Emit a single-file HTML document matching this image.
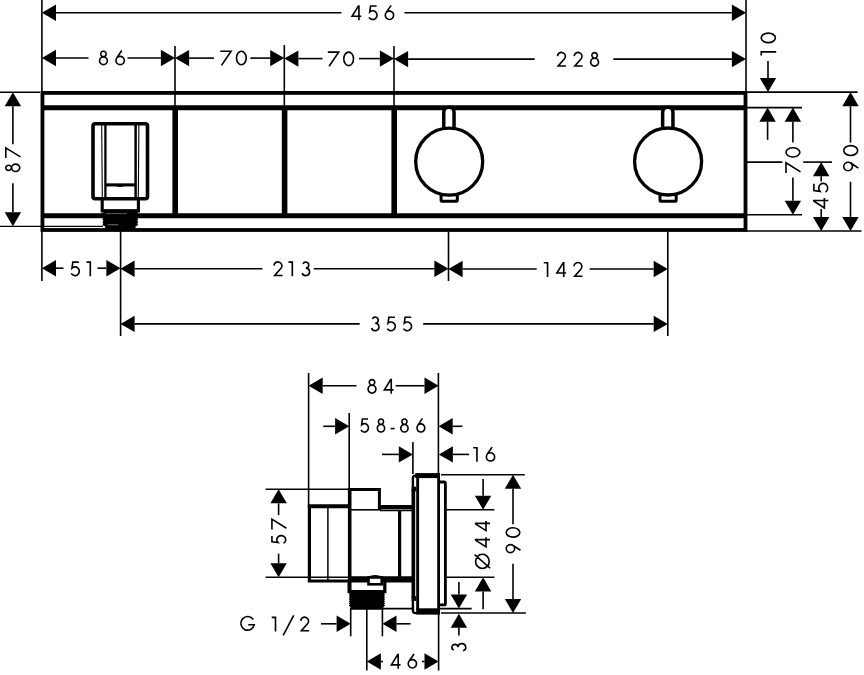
<!DOCTYPE html>
<html><head><meta charset="utf-8"><title>Dimension drawing</title>
<style>html,body{margin:0;padding:0;background:#fff;font-family:"Liberation Sans",sans-serif;}svg{display:block}</style>
</head><body>
<svg width="864" height="675" viewBox="0 0 864 675">
<rect width="864" height="675" fill="#fff"/>
<path d="M41.9,0L41.9,93" stroke="#000" stroke-width="1.6" fill="none"/>
<path d="M746,0L746,93" stroke="#000" stroke-width="1.6" fill="none"/>
<path d="M175,46L175,108" stroke="#000" stroke-width="1.6" fill="none"/>
<path d="M284.3,45L284.3,108" stroke="#000" stroke-width="1.6" fill="none"/>
<path d="M394,46L394,108" stroke="#000" stroke-width="1.6" fill="none"/>
<path d="M41.9,230L41.9,281" stroke="#000" stroke-width="1.6" fill="none"/>
<path d="M120.6,230L120.6,336" stroke="#000" stroke-width="1.6" fill="none"/>
<path d="M448.5,232L448.5,281" stroke="#000" stroke-width="1.6" fill="none"/>
<path d="M667.8,232L667.8,336" stroke="#000" stroke-width="1.6" fill="none"/>
<path d="M0,92.2L40,92.2" stroke="#000" stroke-width="1.6" fill="none"/>
<path d="M0,226.3L103,226.3" stroke="#000" stroke-width="1.3" fill="none"/>
<path d="M746,92.1L857.6,92.1" stroke="#000" stroke-width="1.6" fill="none"/>
<path d="M746,107.6L802,107.6" stroke="#000" stroke-width="1.6" fill="none"/>
<path d="M746,162.1L782.3,162.1" stroke="#000" stroke-width="1.6" fill="none"/>
<path d="M803.2,162.1L832,162.1" stroke="#000" stroke-width="1.6" fill="none"/>
<path d="M746,214.8L802,214.8" stroke="#000" stroke-width="1.6" fill="none"/>
<path d="M746,231L861.5,231" stroke="#000" stroke-width="1.6" fill="none"/>
<rect x="42.45" y="92.9" width="703.05" height="137.1" fill="none" stroke="#000" stroke-width="3.8"/>
<path d="M42.45,107.8L745.5,107.8" stroke="#000" stroke-width="5.0" fill="none"/>
<path d="M42.45,215.7L745.5,215.7" stroke="#000" stroke-width="5.0" fill="none"/>
<path d="M175.2,107.8L175.2,215.7" stroke="#000" stroke-width="5.6" fill="none"/>
<path d="M284.6,107.8L284.6,215.7" stroke="#000" stroke-width="5.6" fill="none"/>
<path d="M394.2,107.8L394.2,215.7" stroke="#000" stroke-width="5.6" fill="none"/>
<rect x="93" y="123.7" width="54.5" height="75" rx="2.2" fill="none" stroke="#000" stroke-width="3.6"/>
<path d="M101.7,125L102.3,198" stroke="#000" stroke-width="1.1" fill="none"/>
<path d="M138.9,125L138.3,198" stroke="#000" stroke-width="1.1" fill="none"/>
<path d="M105.4,125L105.4,200" stroke="#000" stroke-width="2.3" fill="none"/>
<path d="M135.6,125L135.6,200" stroke="#000" stroke-width="2.5" fill="none"/>
<path d="M105.4,184.9L135.6,184.9" stroke="#000" stroke-width="3.1" fill="none"/>
<path d="M115.5,186A6,2.2 0 0 0 124.5,186z" fill="#000"/>
<path d="M102.2,199V211H138.4V199" fill="none" stroke="#000" stroke-width="3.1"/>
<polygon points="102.40,209.30 138.20,209.30 138.20,210.80 137.30,212.22 138.20,213.64 137.30,215.06 138.20,216.48 137.30,217.90 138.20,219.32 137.30,220.74 138.20,222.16 137.30,223.58 138.20,225.00 135.50,226.60 135.50,229.20 105.10,229.20 105.10,226.60 102.40,225.00 103.30,223.58 102.40,222.16 103.30,220.74 102.40,219.32 103.30,217.90 102.40,216.48 103.30,215.06 102.40,213.64 103.30,212.22 102.40,210.80" fill="#000"/>
<path d="M106,213.6H127" stroke="#999" stroke-width="0.6"/>
<path d="M107.5,224.8H118.5" stroke="#aaa" stroke-width="0.7"/>
<path d="M443.75,129.7V112.4A5.15,5.15 0 0 1 454.05,112.4V129.7" fill="#fff" stroke="#000" stroke-width="3.5"/>
<path d="M441.09999999999997,193.7V200.3A1,1 0 0 0 442.09999999999997,201.3H456.3A1,1 0 0 0 457.3,200.3V193.7" fill="#fff" stroke="#000" stroke-width="3.0"/>
<circle cx="449.2" cy="161.7" r="33.5" fill="#fff" stroke="#000" stroke-width="3.3"/>
<path d="M662.65,129.5V112.4A5.15,5.15 0 0 1 672.95,112.4V129.5" fill="#fff" stroke="#000" stroke-width="3.5"/>
<path d="M660.0,193.5V200.3A1,1 0 0 0 661.0,201.3H675.2A1,1 0 0 0 676.2,200.3V193.5" fill="#fff" stroke="#000" stroke-width="3.0"/>
<circle cx="668.1" cy="161.5" r="33.5" fill="#fff" stroke="#000" stroke-width="3.3"/>
<polygon points="41.90,12.70 56.00,4.50 56.00,20.90" fill="#000"/>
<polygon points="746.00,12.70 731.90,4.50 731.90,20.90" fill="#000"/>
<path d="M56.0,12.7L341.5,12.7" stroke="#000" stroke-width="1.6" fill="none"/>
<path d="M404.5,12.7L731.9,12.7" stroke="#000" stroke-width="1.6" fill="none"/>
<g transform="translate(351.40,20.25)" fill="none" stroke="#000" stroke-width="1.62" stroke-linejoin="miter" stroke-linecap="butt"><path transform="translate(0.00,0) scale(1.000,1.000)" d="M7.55,0V-15M7.1,-14.35L0.7,-3.95H9.9" vector-effect="non-scaling-stroke"/><path transform="translate(16.65,0) scale(1.000,1.000)" d="M8.6,-14.19H2.5L1.7,-8.3A4.35,4.35 0 1 1 0.9,-2.9" vector-effect="non-scaling-stroke"/><path transform="translate(33.10,0) scale(1.000,1.000)" d="M6.6,-14.9L1.55,-7.6 M0.77,-4.95a4.18,4.18 0 1 0 8.36,0a4.18,4.18 0 1 0 -8.36,0z" vector-effect="non-scaling-stroke"/></g>
<polygon points="41.90,58.00 56.00,49.80 56.00,66.20" fill="#000"/>
<path d="M56.0,58.0L88.5,58.0" stroke="#000" stroke-width="1.6" fill="none"/>
<g transform="translate(98.75,65.45)" fill="none" stroke="#000" stroke-width="1.62" stroke-linejoin="miter" stroke-linecap="butt"><path transform="translate(0.00,0) scale(1.000,1.000)" d="M1.98,-11.50a2.72,2.72 0 1 0 5.44,0a2.72,2.72 0 1 0 -5.44,0z M0.78,-4.70a3.92,3.92 0 1 0 7.84,0a3.92,3.92 0 1 0 -7.84,0z" vector-effect="non-scaling-stroke"/><path transform="translate(16.45,0) scale(1.000,1.000)" d="M6.6,-14.9L1.55,-7.6 M0.77,-4.95a4.18,4.18 0 1 0 8.36,0a4.18,4.18 0 1 0 -8.36,0z" vector-effect="non-scaling-stroke"/></g>
<path d="M127.5,58.0L160.9,58.0" stroke="#000" stroke-width="1.6" fill="none"/>
<polygon points="175.00,58.00 160.90,49.80 160.90,66.20" fill="#000"/>
<polygon points="175.00,58.10 189.10,49.90 189.10,66.30" fill="#000"/>
<path d="M189.1,58.1L214,58.1" stroke="#000" stroke-width="1.6" fill="none"/>
<g transform="translate(220.10,65.50)" fill="none" stroke="#000" stroke-width="1.62" stroke-linejoin="miter" stroke-linecap="butt"><path transform="translate(0.00,0) scale(1.000,1.000)" d="M0.1,-14.19H11.0L1.4,-0.1" vector-effect="non-scaling-stroke"/><path transform="translate(15.60,0) scale(1.000,1.000)" d="M0.78,-7.50a4.87,6.72 0 1 0 9.74,0a4.87,6.72 0 1 0 -9.74,0z" vector-effect="non-scaling-stroke"/></g>
<path d="M250.3,58.1L270.2,58.1" stroke="#000" stroke-width="1.6" fill="none"/>
<polygon points="284.30,58.10 270.20,49.90 270.20,66.30" fill="#000"/>
<polygon points="284.30,58.60 298.40,50.40 298.40,66.80" fill="#000"/>
<path d="M298.40000000000003,58.6L322.5,58.6" stroke="#000" stroke-width="1.6" fill="none"/>
<g transform="translate(327.70,66.35)" fill="none" stroke="#000" stroke-width="1.62" stroke-linejoin="miter" stroke-linecap="butt"><path transform="translate(0.00,0) scale(1.000,1.000)" d="M0.1,-14.19H11.0L1.4,-0.1" vector-effect="non-scaling-stroke"/><path transform="translate(15.30,0) scale(1.000,1.000)" d="M0.78,-7.50a4.87,6.72 0 1 0 9.74,0a4.87,6.72 0 1 0 -9.74,0z" vector-effect="non-scaling-stroke"/></g>
<path d="M359,58.6L379.9,58.6" stroke="#000" stroke-width="1.6" fill="none"/>
<polygon points="394.00,58.60 379.90,50.40 379.90,66.80" fill="#000"/>
<polygon points="394.00,59.10 408.10,50.90 408.10,67.30" fill="#000"/>
<path d="M408.1,59.1L534.7,59.1" stroke="#000" stroke-width="1.6" fill="none"/>
<g transform="translate(556.60,66.85)" fill="none" stroke="#000" stroke-width="1.62" stroke-linejoin="miter" stroke-linecap="butt"><path transform="translate(0.00,0) scale(1.000,1.000)" d="M0.9,-10.7A3.95,3.95 0 1 1 7.9,-8.0L1.6,-0.81H9.4" vector-effect="non-scaling-stroke"/><path transform="translate(16.65,0) scale(1.000,1.000)" d="M0.9,-10.7A3.95,3.95 0 1 1 7.9,-8.0L1.6,-0.81H9.4" vector-effect="non-scaling-stroke"/><path transform="translate(33.30,0) scale(1.000,1.000)" d="M1.98,-11.50a2.72,2.72 0 1 0 5.44,0a2.72,2.72 0 1 0 -5.44,0z M0.78,-4.70a3.92,3.92 0 1 0 7.84,0a3.92,3.92 0 1 0 -7.84,0z" vector-effect="non-scaling-stroke"/></g>
<path d="M613.3,59.1L731.9,59.1" stroke="#000" stroke-width="1.6" fill="none"/>
<polygon points="746.00,59.10 731.90,50.90 731.90,67.30" fill="#000"/>
<polygon points="41.90,268.20 56.00,260.00 56.00,276.40" fill="#000"/>
<path d="M56.0,268.2L63.5,268.2" stroke="#000" stroke-width="1.6" fill="none"/>
<g transform="translate(70.30,276.35)" fill="none" stroke="#000" stroke-width="1.62" stroke-linejoin="miter" stroke-linecap="butt"><path transform="translate(0.00,0) scale(1.000,1.000)" d="M8.6,-14.19H2.5L1.7,-8.3A4.35,4.35 0 1 1 0.9,-2.9" vector-effect="non-scaling-stroke"/><path transform="translate(16.20,0) scale(1.000,1.000)" d="M0.0,-14.19H3.8V0" vector-effect="non-scaling-stroke"/></g>
<path d="M97.4,268.2L106.4,268.2" stroke="#000" stroke-width="1.6" fill="none"/>
<polygon points="120.50,268.20 106.40,260.00 106.40,276.40" fill="#000"/>
<polygon points="120.50,268.70 134.60,260.50 134.60,276.90" fill="#000"/>
<path d="M134.6,268.7L262.5,268.7" stroke="#000" stroke-width="1.6" fill="none"/>
<g transform="translate(273.10,276.35)" fill="none" stroke="#000" stroke-width="1.62" stroke-linejoin="miter" stroke-linecap="butt"><path transform="translate(0.00,0) scale(1.000,1.000)" d="M0.9,-10.7A3.95,3.95 0 1 1 7.9,-8.0L1.6,-0.81H9.4" vector-effect="non-scaling-stroke"/><path transform="translate(15.40,0) scale(1.000,1.000)" d="M0.0,-14.19H3.8V0" vector-effect="non-scaling-stroke"/><path transform="translate(28.10,0) scale(1.000,1.000)" d="M1.8,-12.4A3,3 0 1 1 4.6,-8.25A3.75,3.75 0 1 1 1.0,-3.4" vector-effect="non-scaling-stroke"/></g>
<path d="M313.8,268.7L434.4,268.7" stroke="#000" stroke-width="1.6" fill="none"/>
<polygon points="448.50,268.70 434.40,260.50 434.40,276.90" fill="#000"/>
<polygon points="448.50,269.00 462.60,260.80 462.60,277.20" fill="#000"/>
<path d="M462.6,269.0L536.7,269.0" stroke="#000" stroke-width="1.6" fill="none"/>
<g transform="translate(543.75,277.00)" fill="none" stroke="#000" stroke-width="1.62" stroke-linejoin="miter" stroke-linecap="butt"><path transform="translate(0.00,0) scale(1.000,1.000)" d="M0.0,-14.19H3.8V0" vector-effect="non-scaling-stroke"/><path transform="translate(12.43,0) scale(1.000,1.000)" d="M7.55,0V-15M7.1,-14.35L0.7,-3.95H9.9" vector-effect="non-scaling-stroke"/><path transform="translate(29.35,0) scale(1.000,1.000)" d="M0.9,-10.7A3.95,3.95 0 1 1 7.9,-8.0L1.6,-0.81H9.4" vector-effect="non-scaling-stroke"/></g>
<path d="M589.6,269.0L653.6999999999999,269.0" stroke="#000" stroke-width="1.6" fill="none"/>
<polygon points="667.80,269.00 653.70,260.80 653.70,277.20" fill="#000"/>
<polygon points="120.50,323.90 134.60,315.70 134.60,332.10" fill="#000"/>
<path d="M134.6,323.9L359.7,323.9" stroke="#000" stroke-width="1.6" fill="none"/>
<g transform="translate(370.60,331.45)" fill="none" stroke="#000" stroke-width="1.62" stroke-linejoin="miter" stroke-linecap="butt"><path transform="translate(0.00,0) scale(1.000,1.000)" d="M1.8,-12.4A3,3 0 1 1 4.6,-8.25A3.75,3.75 0 1 1 1.0,-3.4" vector-effect="non-scaling-stroke"/><path transform="translate(15.75,0) scale(1.000,1.000)" d="M8.6,-14.19H2.5L1.7,-8.3A4.35,4.35 0 1 1 0.9,-2.9" vector-effect="non-scaling-stroke"/><path transform="translate(32.00,0) scale(1.000,1.000)" d="M8.6,-14.19H2.5L1.7,-8.3A4.35,4.35 0 1 1 0.9,-2.9" vector-effect="non-scaling-stroke"/></g>
<path d="M423.2,323.9L653.6999999999999,323.9" stroke="#000" stroke-width="1.6" fill="none"/>
<polygon points="667.80,323.90 653.70,315.70 653.70,332.10" fill="#000"/>
<polygon points="12.90,92.20 4.70,106.30 21.10,106.30" fill="#000"/>
<path d="M12.9,106.3L12.9,144.2" stroke="#000" stroke-width="1.6" fill="none"/>
<g transform="translate(20.55,172.20) rotate(-90)" fill="none" stroke="#000" stroke-width="1.62" stroke-linejoin="miter" stroke-linecap="butt"><path transform="translate(0.00,0) scale(0.936,1.040)" d="M1.98,-11.50a2.72,2.72 0 1 0 5.44,0a2.72,2.72 0 1 0 -5.44,0z M0.78,-4.70a3.92,3.92 0 1 0 7.84,0a3.92,3.92 0 1 0 -7.84,0z" vector-effect="non-scaling-stroke"/><path transform="translate(14.07,0) scale(0.936,1.040)" d="M0.1,-14.19H11.0L1.4,-0.1" vector-effect="non-scaling-stroke"/></g>
<path d="M12.9,183.2L12.9,212.20000000000002" stroke="#000" stroke-width="1.6" fill="none"/>
<polygon points="12.90,226.30 4.70,212.20 21.10,212.20" fill="#000"/>
<path d="M768.0,60.9L768.0,78.0" stroke="#000" stroke-width="1.6" fill="none"/>
<polygon points="768.00,92.10 759.80,78.00 776.20,78.00" fill="#000"/>
<g transform="translate(776.20,55.60) rotate(-90)" fill="none" stroke="#000" stroke-width="1.62" stroke-linejoin="miter" stroke-linecap="butt"><path transform="translate(0.00,0) scale(0.969,1.053)" d="M0.0,-14.19H3.8V0" vector-effect="non-scaling-stroke"/><path transform="translate(12.25,0) scale(0.969,1.053)" d="M0.78,-7.50a4.87,6.72 0 1 0 9.74,0a4.87,6.72 0 1 0 -9.74,0z" vector-effect="non-scaling-stroke"/></g>
<polygon points="767.60,107.60 759.40,121.70 775.80,121.70" fill="#000"/>
<path d="M767.6,121.69999999999999L767.6,139.8" stroke="#000" stroke-width="1.6" fill="none"/>
<polygon points="792.90,107.60 784.70,121.70 801.10,121.70" fill="#000"/>
<path d="M792.9,121.69999999999999L792.9,142.6" stroke="#000" stroke-width="1.6" fill="none"/>
<g transform="translate(800.65,173.20) rotate(-90)" fill="none" stroke="#000" stroke-width="1.62" stroke-linejoin="miter" stroke-linecap="butt"><path transform="translate(0.00,0) scale(0.951,1.033)" d="M0.1,-14.19H11.0L1.4,-0.1" vector-effect="non-scaling-stroke"/><path transform="translate(15.46,0) scale(0.951,1.033)" d="M0.78,-7.50a4.87,6.72 0 1 0 9.74,0a4.87,6.72 0 1 0 -9.74,0z" vector-effect="non-scaling-stroke"/></g>
<path d="M792.9,177.5L792.9,200.70000000000002" stroke="#000" stroke-width="1.6" fill="none"/>
<polygon points="792.90,214.80 784.70,200.70 801.10,200.70" fill="#000"/>
<polygon points="821.20,162.10 813.00,176.20 829.40,176.20" fill="#000"/>
<path d="M821.2,176.2L821.2,181.4" stroke="#000" stroke-width="1.6" fill="none"/>
<g transform="translate(828.45,208.70) rotate(-90)" fill="none" stroke="#000" stroke-width="1.62" stroke-linejoin="miter" stroke-linecap="butt"><path transform="translate(0.00,0) scale(1.088,1.027)" d="M7.55,0V-15M7.1,-14.35L0.7,-3.95H9.9" vector-effect="non-scaling-stroke"/><path transform="translate(15.54,0) scale(1.088,1.027)" d="M8.6,-14.19H2.5L1.7,-8.3A4.35,4.35 0 1 1 0.9,-2.9" vector-effect="non-scaling-stroke"/></g>
<path d="M821.2,209.1L821.2,216.9" stroke="#000" stroke-width="1.6" fill="none"/>
<polygon points="821.20,231.00 813.00,216.90 829.40,216.90" fill="#000"/>
<polygon points="850.50,92.10 842.30,106.20 858.70,106.20" fill="#000"/>
<path d="M850.5,106.19999999999999L850.5,142.6" stroke="#000" stroke-width="1.6" fill="none"/>
<g transform="translate(858.45,171.50) rotate(-90)" fill="none" stroke="#000" stroke-width="1.62" stroke-linejoin="miter" stroke-linecap="butt"><path transform="translate(0.00,0) scale(1.013,1.033)" d="M3.3,-0.1L8.35,-7.4 M0.77,-10.05a4.18,4.18 0 1 0 8.36,0a4.18,4.18 0 1 0 -8.36,0z" vector-effect="non-scaling-stroke"/><path transform="translate(15.26,0) scale(1.013,1.033)" d="M0.78,-7.50a4.87,6.72 0 1 0 9.74,0a4.87,6.72 0 1 0 -9.74,0z" vector-effect="non-scaling-stroke"/></g>
<path d="M850.5,181.7L850.5,216.9" stroke="#000" stroke-width="1.6" fill="none"/>
<polygon points="850.50,231.00 842.30,216.90 858.70,216.90" fill="#000"/>
<path d="M308.6,373L308.6,507" stroke="#000" stroke-width="1.6" fill="none"/>
<path d="M438.4,373L438.4,474" stroke="#000" stroke-width="1.6" fill="none"/>
<path d="M349.2,413L349.2,490" stroke="#000" stroke-width="1.6" fill="none"/>
<path d="M412.9,442L412.9,474" stroke="#000" stroke-width="1.6" fill="none"/>
<path d="M265.6,489.2L349.5,489.2" stroke="#000" stroke-width="1.6" fill="none"/>
<path d="M265.6,577.3L349,577.3" stroke="#000" stroke-width="1.6" fill="none"/>
<path d="M441,474.7L524.7,474.7" stroke="#000" stroke-width="1.6" fill="none"/>
<path d="M446.6,509.8L494.4,509.8" stroke="#000" stroke-width="1.6" fill="none"/>
<path d="M446.6,577.3L494.4,577.3" stroke="#000" stroke-width="1.6" fill="none"/>
<path d="M383,608.6L471.6,608.6" stroke="#000" stroke-width="1.6" fill="none"/>
<path d="M441,613.0L526,613.0" stroke="#000" stroke-width="1.6" fill="none"/>
<path d="M350.7,608L350.7,636.3" stroke="#000" stroke-width="1.6" fill="none"/>
<path d="M366.8,608L366.8,670.5" stroke="#000" stroke-width="1.6" fill="none"/>
<path d="M382.4,608L382.4,636.3" stroke="#000" stroke-width="1.6" fill="none"/>
<path d="M438.6,614L438.6,670.5" stroke="#000" stroke-width="1.6" fill="none"/>
<path d="M309.4,506.3V581H349.6" fill="none" stroke="#000" stroke-width="3.2"/>
<path d="M307.9,506.3L351,506.3" stroke="#000" stroke-width="4.0" fill="none"/>
<path d="M327.9,507L327.9,580" stroke="#000" stroke-width="1.5" fill="none"/>
<path d="M349.7,488L349.7,591" stroke="#000" stroke-width="3.6" fill="none"/>
<path d="M349.7,489.4H379.4V508" fill="none" stroke="#000" stroke-width="3.0"/>
<path d="M351,509.8L381,509.8" stroke="#000" stroke-width="1.6" fill="none"/>
<path d="M378,506.9L413,506.9" stroke="#000" stroke-width="4.0" fill="none"/>
<path d="M380,510.4L413,510.4" stroke="#000" stroke-width="1.9" fill="none"/>
<path d="M399.6,510L399.6,578" stroke="#000" stroke-width="3.2" fill="none"/>
<path d="M349.7,579.4L413,579.4" stroke="#000" stroke-width="6.3" fill="none"/>
<rect x="368.5" y="577.5" width="13.2" height="6.8" fill="#fff" stroke="#000" stroke-width="2.6"/>
<path d="M368,577.4Q375,574.4 382.4,577.4" fill="none" stroke="#000" stroke-width="1.6"/>
<path d="M349.2,582V591.6H384.8V582" fill="none" stroke="#000" stroke-width="3.3"/>
<polygon points="348.90,591.50 385.00,591.50 385.00,593.00 384.10,594.05 385.00,595.10 384.10,596.15 385.00,597.20 384.10,598.25 385.00,599.30 384.10,600.35 385.00,601.40 384.10,602.45 385.00,603.50 384.10,604.55 385.00,605.60 383.40,607.20 383.40,609.80 350.50,609.80 350.50,607.20 348.90,605.60 349.80,604.55 348.90,603.50 349.80,602.45 348.90,601.40 349.80,600.35 348.90,599.30 349.80,598.25 348.90,597.20 349.80,596.15 348.90,595.10 349.80,594.05 348.90,593.00" fill="#000"/>
<rect x="412.5" y="474" width="27" height="140" fill="#fff"/>
<path d="M438.6,475.6H415.4A2.5,2.5 0 0 0 412.9,478.1V610.6A2.5,2.5 0 0 0 415.4,613.1H438.6" fill="none" stroke="#000" stroke-width="2.4"/>
<path d="M413.45,489L413.45,598.5" stroke="#000" stroke-width="3.5" fill="none"/>
<rect x="411.7" y="486.7" width="4.6" height="4.6" fill="#000"/>
<rect x="411.7" y="596.2" width="4.6" height="4.7" fill="#000"/>
<path d="M415.2,475.6L440,475.6" stroke="#000" stroke-width="5.0" fill="none"/>
<path d="M416.2,611.4L440,611.4" stroke="#000" stroke-width="6.2" fill="none"/>
<path d="M417.65,477L417.65,610" stroke="#000" stroke-width="2.9" fill="none"/>
<path d="M438.6,473.1L438.6,614.5" stroke="#000" stroke-width="2.8" fill="none"/>
<path d="M440,482.0H444.2A1.2,1.2 0 0 1 445.4,483.2V603.7A1.2,1.2 0 0 1 444.2,604.9H440" fill="none" stroke="#000" stroke-width="2.8"/>
<polygon points="308.60,385.75 322.70,377.55 322.70,393.95" fill="#000"/>
<path d="M322.70000000000005,385.75L356.5,385.75" stroke="#000" stroke-width="1.6" fill="none"/>
<g transform="translate(367.30,393.85)" fill="none" stroke="#000" stroke-width="1.62" stroke-linejoin="miter" stroke-linecap="butt"><path transform="translate(0.00,0) scale(1.000,1.000)" d="M1.98,-11.50a2.72,2.72 0 1 0 5.44,0a2.72,2.72 0 1 0 -5.44,0z M0.78,-4.70a3.92,3.92 0 1 0 7.84,0a3.92,3.92 0 1 0 -7.84,0z" vector-effect="non-scaling-stroke"/><path transform="translate(16.40,0) scale(1.000,1.000)" d="M7.55,0V-15M7.1,-14.35L0.7,-3.95H9.9" vector-effect="non-scaling-stroke"/></g>
<path d="M395.7,385.75L424.5,385.75" stroke="#000" stroke-width="1.6" fill="none"/>
<polygon points="438.60,385.75 424.50,377.55 424.50,393.95" fill="#000"/>
<path d="M323.3,426.3L335.09999999999997,426.3" stroke="#000" stroke-width="1.6" fill="none"/>
<polygon points="349.20,426.30 335.10,418.10 335.10,434.50" fill="#000"/>
<g transform="translate(360.10,432.75)" fill="none" stroke="#000" stroke-width="1.62" stroke-linejoin="miter" stroke-linecap="butt"><path transform="translate(0.00,0) scale(0.928,0.967)" d="M8.6,-14.19H2.5L1.7,-8.3A4.35,4.35 0 1 1 0.9,-2.9" vector-effect="non-scaling-stroke"/><path transform="translate(16.52,0) scale(0.928,0.967)" d="M1.98,-11.50a2.72,2.72 0 1 0 5.44,0a2.72,2.72 0 1 0 -5.44,0z M0.78,-4.70a3.92,3.92 0 1 0 7.84,0a3.92,3.92 0 1 0 -7.84,0z" vector-effect="non-scaling-stroke"/><path transform="translate(30.56,0) scale(0.928,0.967)" d="M0,-4.3H4.2" vector-effect="non-scaling-stroke"/><path transform="translate(39.97,0) scale(0.928,0.967)" d="M1.98,-11.50a2.72,2.72 0 1 0 5.44,0a2.72,2.72 0 1 0 -5.44,0z M0.78,-4.70a3.92,3.92 0 1 0 7.84,0a3.92,3.92 0 1 0 -7.84,0z" vector-effect="non-scaling-stroke"/><path transform="translate(56.21,0) scale(0.928,0.967)" d="M6.6,-14.9L1.55,-7.6 M0.77,-4.95a4.18,4.18 0 1 0 8.36,0a4.18,4.18 0 1 0 -8.36,0z" vector-effect="non-scaling-stroke"/></g>
<polygon points="438.60,426.30 452.70,418.10 452.70,434.50" fill="#000"/>
<path d="M452.70000000000005,426.3L462.5,426.3" stroke="#000" stroke-width="1.6" fill="none"/>
<path d="M382,454.4L398.79999999999995,454.4" stroke="#000" stroke-width="1.6" fill="none"/>
<polygon points="412.90,454.40 398.80,446.20 398.80,462.60" fill="#000"/>
<polygon points="438.80,454.40 452.90,446.20 452.90,462.60" fill="#000"/>
<path d="M452.90000000000003,454.4L469.1,454.4" stroke="#000" stroke-width="1.6" fill="none"/>
<g transform="translate(473.20,461.80)" fill="none" stroke="#000" stroke-width="1.62" stroke-linejoin="miter" stroke-linecap="butt"><path transform="translate(0.00,0) scale(0.987,0.987)" d="M0.0,-14.19H3.8V0" vector-effect="non-scaling-stroke"/><path transform="translate(12.43,0) scale(0.987,0.987)" d="M6.6,-14.9L1.55,-7.6 M0.77,-4.95a4.18,4.18 0 1 0 8.36,0a4.18,4.18 0 1 0 -8.36,0z" vector-effect="non-scaling-stroke"/></g>
<g transform="translate(239.90,631.70)" fill="none" stroke="#000" stroke-width="1.62" stroke-linejoin="miter" stroke-linecap="butt"><path transform="translate(0.00,0) scale(1.013,1.013)" d="M13.2,-12.0A6.7,6.7 0 1 0 14.2,-6.9H8.2" vector-effect="non-scaling-stroke"/></g>
<g transform="translate(271.70,631.60)" fill="none" stroke="#000" stroke-width="1.62" stroke-linejoin="miter" stroke-linecap="butt"><path transform="translate(0.00,0) scale(1.000,1.000)" d="M0.0,-14.19H3.8V0" vector-effect="non-scaling-stroke"/><path transform="translate(11.00,0) scale(1.000,1.000)" d="M0.5,3.8L11,-16.2" vector-effect="non-scaling-stroke"/><path transform="translate(28.10,0) scale(1.000,1.000)" d="M0.9,-10.7A3.95,3.95 0 1 1 7.9,-8.0L1.6,-0.81H9.4" vector-effect="non-scaling-stroke"/></g>
<path d="M321,623.8L336.59999999999997,623.8" stroke="#000" stroke-width="1.6" fill="none"/>
<polygon points="350.70,623.80 336.60,615.60 336.60,632.00" fill="#000"/>
<polygon points="382.40,623.80 396.50,615.60 396.50,632.00" fill="#000"/>
<path d="M396.5,623.8L410.5,623.8" stroke="#000" stroke-width="1.6" fill="none"/>
<polygon points="366.80,661.50 380.90,653.30 380.90,669.70" fill="#000"/>
<path d="M380.90000000000003,661.5L382.9,661.5" stroke="#000" stroke-width="1.6" fill="none"/>
<g transform="translate(390.70,668.75)" fill="none" stroke="#000" stroke-width="1.62" stroke-linejoin="miter" stroke-linecap="butt"><path transform="translate(0.00,0) scale(0.993,0.993)" d="M7.55,0V-15M7.1,-14.35L0.7,-3.95H9.9" vector-effect="non-scaling-stroke"/><path transform="translate(16.77,0) scale(0.993,0.993)" d="M6.6,-14.9L1.55,-7.6 M0.77,-4.95a4.18,4.18 0 1 0 8.36,0a4.18,4.18 0 1 0 -8.36,0z" vector-effect="non-scaling-stroke"/></g>
<path d="M422,661.5L424.5,661.5" stroke="#000" stroke-width="1.6" fill="none"/>
<polygon points="438.60,661.50 424.50,653.30 424.50,669.70" fill="#000"/>
<polygon points="278.60,489.20 270.40,503.30 286.80,503.30" fill="#000"/>
<path d="M278.6,503.3L278.6,515.2" stroke="#000" stroke-width="1.6" fill="none"/>
<g transform="translate(286.50,544.10) rotate(-90)" fill="none" stroke="#000" stroke-width="1.62" stroke-linejoin="miter" stroke-linecap="butt"><path transform="translate(0.00,0) scale(0.945,1.027)" d="M8.6,-14.19H2.5L1.7,-8.3A4.35,4.35 0 1 1 0.9,-2.9" vector-effect="non-scaling-stroke"/><path transform="translate(14.57,0) scale(0.945,1.027)" d="M0.1,-14.19H11.0L1.4,-0.1" vector-effect="non-scaling-stroke"/></g>
<path d="M278.6,553.7L278.6,563.1999999999999" stroke="#000" stroke-width="1.6" fill="none"/>
<polygon points="278.60,577.30 270.40,563.20 286.80,563.20" fill="#000"/>
<path d="M483.1,479L483.1,495.7" stroke="#000" stroke-width="1.6" fill="none"/>
<polygon points="483.10,509.80 474.90,495.70 491.30,495.70" fill="#000"/>
<g transform="translate(490.00,569.30) rotate(-90)" fill="none" stroke="#000" stroke-width="1.62" stroke-linejoin="miter" stroke-linecap="butt"><path transform="translate(0.00,0) scale(1.054,1.013)" d="M0.78,-7.50a6.72,6.72 0 1 0 13.44,0a6.72,6.72 0 1 0 -13.44,0z M1.0,0.2L14.0,-15.2" vector-effect="non-scaling-stroke"/><path transform="translate(21.67,0) scale(1.054,1.013)" d="M7.55,0V-15M7.1,-14.35L0.7,-3.95H9.9" vector-effect="non-scaling-stroke"/><path transform="translate(37.97,0) scale(1.054,1.013)" d="M7.55,0V-15M7.1,-14.35L0.7,-3.95H9.9" vector-effect="non-scaling-stroke"/></g>
<polygon points="483.10,577.30 474.90,591.40 491.30,591.40" fill="#000"/>
<path d="M483.1,591.4L483.1,609.3" stroke="#000" stroke-width="1.6" fill="none"/>
<polygon points="513.00,474.70 504.80,488.80 521.20,488.80" fill="#000"/>
<path d="M513.0,488.8L513.0,524.3" stroke="#000" stroke-width="1.6" fill="none"/>
<g transform="translate(520.55,553.40) rotate(-90)" fill="none" stroke="#000" stroke-width="1.62" stroke-linejoin="miter" stroke-linecap="butt"><path transform="translate(0.00,0) scale(0.966,1.007)" d="M3.3,-0.1L8.35,-7.4 M0.77,-10.05a4.18,4.18 0 1 0 8.36,0a4.18,4.18 0 1 0 -8.36,0z" vector-effect="non-scaling-stroke"/><path transform="translate(15.48,0) scale(0.966,1.007)" d="M0.78,-7.50a4.87,6.72 0 1 0 9.74,0a4.87,6.72 0 1 0 -9.74,0z" vector-effect="non-scaling-stroke"/></g>
<path d="M513.0,563.7L513.0,598.9" stroke="#000" stroke-width="1.6" fill="none"/>
<polygon points="513.00,613.00 504.80,598.90 521.20,598.90" fill="#000"/>
<path d="M458.9,582L458.9,594.4" stroke="#000" stroke-width="1.6" fill="none"/>
<polygon points="458.90,608.50 450.70,594.40 467.10,594.40" fill="#000"/>
<polygon points="458.90,613.70 450.70,627.80 467.10,627.80" fill="#000"/>
<path d="M458.9,627.8000000000001L458.9,635.6" stroke="#000" stroke-width="1.6" fill="none"/>
<g transform="translate(466.50,651.70) rotate(-90)" fill="none" stroke="#000" stroke-width="1.62" stroke-linejoin="miter" stroke-linecap="butt"><path transform="translate(0.00,0) scale(0.965,1.027)" d="M1.8,-12.4A3,3 0 1 1 4.6,-8.25A3.75,3.75 0 1 1 1.0,-3.4" vector-effect="non-scaling-stroke"/></g>
</svg>
</body></html>
